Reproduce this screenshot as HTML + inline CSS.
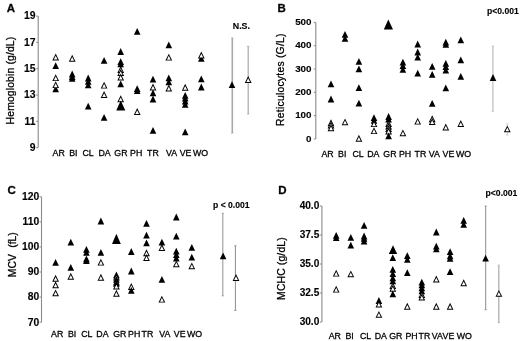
<!DOCTYPE html>
<html><head><meta charset="utf-8"><style>
html,body{margin:0;padding:0;background:#fff;}
svg{display:block;will-change:transform;font-family:"Liberation Sans",sans-serif;fill:#000;}
text{fill:#000;}
text.r{stroke:#000;stroke-width:0.28px;}
text.b{stroke:#000;stroke-width:0.12px;}
</style></head><body>
<svg width="520" height="341" viewBox="0 0 520 341">
<rect width="520" height="341" fill="#fff"/>
<text x="6.8" y="11.6" font-size="11.5" font-weight="bold" text-anchor="start" stroke="#111" stroke-width="0.3">A</text>
<text class="r" transform="translate(13.5,124.4) rotate(-90)" font-size="10.4" textLength="87.6" lengthAdjust="spacing">Hemoglobin (g/dL)</text>
<line x1="38.2" y1="16.1" x2="38.2" y2="147.6" stroke="#8a8a8a" stroke-width="1.1"/>
<line x1="36.2" y1="16.1" x2="38.2" y2="16.1" stroke="#8a8a8a" stroke-width="1"/>
<text x="35.5" y="19.400000000000002" font-size="10.4" font-weight="bold" text-anchor="end" class="b">19</text>
<line x1="36.2" y1="42.4" x2="38.2" y2="42.4" stroke="#8a8a8a" stroke-width="1"/>
<text x="35.5" y="45.699999999999996" font-size="10.4" font-weight="bold" text-anchor="end" class="b">17</text>
<line x1="36.2" y1="68.7" x2="38.2" y2="68.7" stroke="#8a8a8a" stroke-width="1"/>
<text x="35.5" y="72.0" font-size="10.4" font-weight="bold" text-anchor="end" class="b">15</text>
<line x1="36.2" y1="95.0" x2="38.2" y2="95.0" stroke="#8a8a8a" stroke-width="1"/>
<text x="35.5" y="98.3" font-size="10.4" font-weight="bold" text-anchor="end" class="b">13</text>
<line x1="36.2" y1="121.3" x2="38.2" y2="121.3" stroke="#8a8a8a" stroke-width="1"/>
<text x="35.5" y="124.6" font-size="10.4" font-weight="bold" text-anchor="end" class="b">11</text>
<line x1="36.2" y1="147.6" x2="38.2" y2="147.6" stroke="#8a8a8a" stroke-width="1"/>
<text x="35.5" y="150.9" font-size="10.4" font-weight="bold" text-anchor="end" class="b">9</text>
<text x="58.65" y="156.0" font-size="8.8" font-weight="normal" text-anchor="middle" class="r">AR</text>
<text x="73.35" y="156.0" font-size="8.8" font-weight="normal" text-anchor="middle" class="r">BI</text>
<text x="88.1" y="156.0" font-size="8.8" font-weight="normal" text-anchor="middle" class="r">CL</text>
<text x="104.6" y="156.0" font-size="8.8" font-weight="normal" text-anchor="middle" class="r">DA</text>
<text x="120.95" y="156.0" font-size="8.8" font-weight="normal" text-anchor="middle" class="r">GR</text>
<text x="136.2" y="156.0" font-size="8.8" font-weight="normal" text-anchor="middle" class="r">PH</text>
<text x="152.9" y="156.0" font-size="8.8" font-weight="normal" text-anchor="middle" class="r">TR</text>
<text x="171.55" y="156.0" font-size="8.8" font-weight="normal" text-anchor="middle" class="r">VA</text>
<text x="185.55" y="156.0" font-size="8.8" font-weight="normal" text-anchor="middle" class="r">VE</text>
<text x="200.6" y="156.0" font-size="8.8" font-weight="normal" text-anchor="middle" class="r">WO</text>
<polygon points="55.70,62.20 52.40,69.00 59.00,69.00" fill="#000"/>
<polygon points="55.70,85.50 52.40,92.30 59.00,92.30" fill="#000"/>
<polygon points="55.70,53.50 52.30,60.40 59.10,60.40" fill="#000"/>
<polygon points="55.70,55.65 53.83,59.45 57.57,59.45" fill="#fff"/>
<polygon points="55.70,74.20 52.30,81.10 59.10,81.10" fill="#000"/>
<polygon points="55.70,76.35 53.83,80.15 57.57,80.15" fill="#fff"/>
<polygon points="55.70,81.20 52.30,88.10 59.10,88.10" fill="#000"/>
<polygon points="55.70,83.35 53.83,87.15 57.57,87.15" fill="#fff"/>
<polygon points="72.20,70.60 68.90,77.40 75.50,77.40" fill="#000"/>
<polygon points="72.20,73.20 68.90,80.00 75.50,80.00" fill="#000"/>
<polygon points="72.20,75.00 68.90,81.80 75.50,81.80" fill="#000"/>
<polygon points="72.20,54.80 68.80,61.70 75.60,61.70" fill="#000"/>
<polygon points="72.20,56.95 70.33,60.75 74.07,60.75" fill="#fff"/>
<polygon points="88.20,74.60 84.90,81.40 91.50,81.40" fill="#000"/>
<polygon points="88.20,78.00 84.90,84.80 91.50,84.80" fill="#000"/>
<polygon points="88.20,81.50 84.90,88.30 91.50,88.30" fill="#000"/>
<polygon points="88.20,102.80 84.90,109.60 91.50,109.60" fill="#000"/>
<polygon points="104.10,57.00 100.80,63.80 107.40,63.80" fill="#000"/>
<polygon points="104.10,81.70 100.70,88.60 107.50,88.60" fill="#000"/>
<polygon points="104.10,83.85 102.23,87.65 105.97,87.65" fill="#fff"/>
<polygon points="104.10,91.00 100.70,97.90 107.50,97.90" fill="#000"/>
<polygon points="104.10,93.15 102.23,96.95 105.97,96.95" fill="#fff"/>
<polygon points="104.10,114.00 100.80,120.80 107.40,120.80" fill="#000"/>
<polygon points="120.70,48.10 117.40,54.90 124.00,54.90" fill="#000"/>
<polygon points="120.70,58.30 117.40,65.10 124.00,65.10" fill="#000"/>
<polygon points="120.70,60.50 117.40,67.30 124.00,67.30" fill="#000"/>
<polygon points="120.70,66.00 117.30,72.90 124.10,72.90" fill="#000"/>
<polygon points="120.70,68.15 118.83,71.95 122.57,71.95" fill="#fff"/>
<polygon points="120.70,69.00 117.30,75.90 124.10,75.90" fill="#000"/>
<polygon points="120.70,71.15 118.83,74.95 122.57,74.95" fill="#fff"/>
<polygon points="120.70,73.50 117.30,80.40 124.10,80.40" fill="#000"/>
<polygon points="120.70,75.65 118.83,79.45 122.57,79.45" fill="#fff"/>
<polygon points="120.70,80.50 117.40,87.30 124.00,87.30" fill="#000"/>
<polygon points="120.70,95.30 117.30,102.20 124.10,102.20" fill="#000"/>
<polygon points="120.70,97.45 118.83,101.25 122.57,101.25" fill="#fff"/>
<polygon points="120.7,100.5 116.3,110.6 125.3,110.6" fill="#000"/>
<polygon points="137.20,27.90 133.90,34.70 140.50,34.70" fill="#000"/>
<polygon points="137.20,85.30 133.90,92.10 140.50,92.10" fill="#000"/>
<polygon points="137.20,87.30 133.90,94.10 140.50,94.10" fill="#000"/>
<polygon points="137.20,108.00 133.80,114.90 140.60,114.90" fill="#000"/>
<polygon points="137.20,110.15 135.33,113.95 139.07,113.95" fill="#fff"/>
<polygon points="153.00,75.80 149.70,82.60 156.30,82.60" fill="#000"/>
<polygon points="153.00,89.50 149.70,96.30 156.30,96.30" fill="#000"/>
<polygon points="153.00,95.60 149.70,102.40 156.30,102.40" fill="#000"/>
<polygon points="153.00,127.00 149.70,133.80 156.30,133.80" fill="#000"/>
<polygon points="153.00,83.60 149.60,90.50 156.40,90.50" fill="#000"/>
<polygon points="153.00,85.75 151.13,89.55 154.87,89.55" fill="#fff"/>
<polygon points="168.80,41.50 165.50,48.30 172.10,48.30" fill="#000"/>
<polygon points="168.80,74.50 165.50,81.30 172.10,81.30" fill="#000"/>
<polygon points="168.80,78.50 165.50,85.30 172.10,85.30" fill="#000"/>
<polygon points="168.80,53.70 165.40,60.60 172.20,60.60" fill="#000"/>
<polygon points="168.80,55.85 166.93,59.65 170.67,59.65" fill="#fff"/>
<polygon points="168.80,84.50 165.40,91.40 172.20,91.40" fill="#000"/>
<polygon points="168.80,86.65 166.93,90.45 170.67,90.45" fill="#fff"/>
<polygon points="185.20,91.90 181.90,98.70 188.50,98.70" fill="#000"/>
<polygon points="185.20,94.60 181.90,101.40 188.50,101.40" fill="#000"/>
<polygon points="185.20,97.60 181.90,104.40 188.50,104.40" fill="#000"/>
<polygon points="185.20,101.00 181.90,107.80 188.50,107.80" fill="#000"/>
<polygon points="185.20,128.40 181.90,135.20 188.50,135.20" fill="#000"/>
<polygon points="185.20,83.80 181.80,90.70 188.60,90.70" fill="#000"/>
<polygon points="185.20,85.95 183.33,89.75 187.07,89.75" fill="#fff"/>
<polygon points="201.30,55.00 198.00,61.80 204.60,61.80" fill="#000"/>
<polygon points="201.30,51.60 197.90,58.50 204.70,58.50" fill="#000"/>
<polygon points="201.30,53.75 199.43,57.55 203.17,57.55" fill="#fff"/>
<polygon points="201.30,75.50 198.00,82.30 204.60,82.30" fill="#000"/>
<polygon points="201.30,83.60 198.00,90.40 204.60,90.40" fill="#000"/>
<text x="232.8" y="28.5" font-size="8.8" font-weight="bold" text-anchor="start" class="b">N.S.</text>
<line x1="232.3" y1="38" x2="232.3" y2="133" stroke="#a8a8a8" stroke-width="1.6"/>
<line x1="231.10000000000002" y1="38" x2="233.5" y2="38" stroke="#a8a8a8" stroke-width="0.8"/>
<line x1="231.10000000000002" y1="133" x2="233.5" y2="133" stroke="#a8a8a8" stroke-width="0.8"/>
<line x1="248.2" y1="46.4" x2="248.2" y2="114" stroke="#a8a8a8" stroke-width="1.2"/>
<line x1="247.0" y1="46.4" x2="249.39999999999998" y2="46.4" stroke="#a8a8a8" stroke-width="0.8"/>
<line x1="247.0" y1="114" x2="249.39999999999998" y2="114" stroke="#a8a8a8" stroke-width="0.8"/>
<polygon points="232.00,81.20 228.70,88.00 235.30,88.00" fill="#000"/>
<polygon points="248.20,76.00 244.80,82.90 251.60,82.90" fill="#000"/>
<polygon points="248.20,78.15 246.33,81.95 250.07,81.95" fill="#fff"/>
<text x="277.6" y="11.5" font-size="11.5" font-weight="bold" text-anchor="start" stroke="#111" stroke-width="0.3">B</text>
<text class="r" transform="translate(283.7,125.9) rotate(-90)" font-size="10.4" textLength="92.4" lengthAdjust="spacing">Reticulocytes (G/L)</text>
<line x1="315.8" y1="22.4" x2="315.8" y2="138.9" stroke="#8a8a8a" stroke-width="1.1"/>
<line x1="313.8" y1="22.4" x2="315.8" y2="22.4" stroke="#8a8a8a" stroke-width="1"/>
<text x="311.5" y="25.0" font-size="9.8" font-weight="bold" text-anchor="end" class="b">500</text>
<line x1="313.8" y1="45.7" x2="315.8" y2="45.7" stroke="#8a8a8a" stroke-width="1"/>
<text x="311.5" y="48.300000000000004" font-size="9.8" font-weight="bold" text-anchor="end" class="b">400</text>
<line x1="313.8" y1="69.0" x2="315.8" y2="69.0" stroke="#8a8a8a" stroke-width="1"/>
<text x="311.5" y="71.6" font-size="9.8" font-weight="bold" text-anchor="end" class="b">300</text>
<line x1="313.8" y1="92.3" x2="315.8" y2="92.3" stroke="#8a8a8a" stroke-width="1"/>
<text x="311.5" y="94.89999999999999" font-size="9.8" font-weight="bold" text-anchor="end" class="b">200</text>
<line x1="313.8" y1="115.6" x2="315.8" y2="115.6" stroke="#8a8a8a" stroke-width="1"/>
<text x="311.5" y="118.19999999999999" font-size="9.8" font-weight="bold" text-anchor="end" class="b">100</text>
<line x1="313.8" y1="138.9" x2="315.8" y2="138.9" stroke="#8a8a8a" stroke-width="1"/>
<text x="311.5" y="141.5" font-size="9.8" font-weight="bold" text-anchor="end" class="b">0</text>
<text x="327.6" y="156.5" font-size="8.8" font-weight="normal" text-anchor="middle" class="r">AR</text>
<text x="342.25" y="156.5" font-size="8.8" font-weight="normal" text-anchor="middle" class="r">BI</text>
<text x="358.0" y="156.5" font-size="8.8" font-weight="normal" text-anchor="middle" class="r">CL</text>
<text x="373.35" y="156.5" font-size="8.8" font-weight="normal" text-anchor="middle" class="r">DA</text>
<text x="389.95" y="156.5" font-size="8.8" font-weight="normal" text-anchor="middle" class="r">GR</text>
<text x="405.0" y="156.5" font-size="8.8" font-weight="normal" text-anchor="middle" class="r">PH</text>
<text x="420.4" y="156.5" font-size="8.8" font-weight="normal" text-anchor="middle" class="r">TR</text>
<text x="434.25" y="156.5" font-size="8.8" font-weight="normal" text-anchor="middle" class="r">VA</text>
<text x="448.45" y="156.5" font-size="8.8" font-weight="normal" text-anchor="middle" class="r">VE</text>
<text x="463.5" y="156.5" font-size="8.8" font-weight="normal" text-anchor="middle" class="r">WO</text>
<polygon points="331.00,80.50 327.70,87.30 334.30,87.30" fill="#000"/>
<polygon points="331.00,95.60 327.70,102.40 334.30,102.40" fill="#000"/>
<polygon points="331.00,119.30 327.60,126.20 334.40,126.20" fill="#000"/>
<polygon points="331.00,121.45 329.13,125.25 332.87,125.25" fill="#fff"/>
<polygon points="331.00,121.60 327.60,128.50 334.40,128.50" fill="#000"/>
<polygon points="331.00,123.75 329.13,127.55 332.87,127.55" fill="#fff"/>
<polygon points="331.00,124.30 327.60,131.20 334.40,131.20" fill="#000"/>
<polygon points="331.00,126.45 329.13,130.25 332.87,130.25" fill="#fff"/>
<polygon points="345.00,31.00 341.70,37.80 348.30,37.80" fill="#000"/>
<polygon points="345.00,35.00 341.70,41.80 348.30,41.80" fill="#000"/>
<polygon points="345.00,118.40 341.60,125.30 348.40,125.30" fill="#000"/>
<polygon points="345.00,120.55 343.13,124.35 346.87,124.35" fill="#fff"/>
<polygon points="358.90,58.00 355.60,64.80 362.20,64.80" fill="#000"/>
<polygon points="358.90,65.40 355.60,72.20 362.20,72.20" fill="#000"/>
<polygon points="358.90,84.20 355.60,91.00 362.20,91.00" fill="#000"/>
<polygon points="358.90,99.80 355.60,106.60 362.20,106.60" fill="#000"/>
<polygon points="358.90,134.80 355.50,141.70 362.30,141.70" fill="#000"/>
<polygon points="358.90,136.95 357.03,140.75 360.77,140.75" fill="#fff"/>
<polygon points="374.00,114.20 370.70,121.00 377.30,121.00" fill="#000"/>
<polygon points="374.00,117.00 370.70,123.80 377.30,123.80" fill="#000"/>
<polygon points="374.00,120.20 370.60,127.10 377.40,127.10" fill="#000"/>
<polygon points="374.00,122.35 372.13,126.15 375.87,126.15" fill="#fff"/>
<polygon points="374.00,127.20 370.60,134.10 377.40,134.10" fill="#000"/>
<polygon points="374.00,129.35 372.13,133.15 375.87,133.15" fill="#fff"/>
<polygon points="388.60,113.10 385.30,119.90 391.90,119.90" fill="#000"/>
<polygon points="388.60,115.80 385.30,122.60 391.90,122.60" fill="#000"/>
<polygon points="388.60,120.00 385.20,126.90 392.00,126.90" fill="#000"/>
<polygon points="388.60,122.15 386.73,125.95 390.47,125.95" fill="#fff"/>
<polygon points="388.60,122.50 385.20,129.40 392.00,129.40" fill="#000"/>
<polygon points="388.60,124.65 386.73,128.45 390.47,128.45" fill="#fff"/>
<polygon points="388.60,125.00 385.20,131.90 392.00,131.90" fill="#000"/>
<polygon points="388.60,127.15 386.73,130.95 390.47,130.95" fill="#fff"/>
<polygon points="388.60,127.50 385.20,134.40 392.00,134.40" fill="#000"/>
<polygon points="388.60,129.65 386.73,133.45 390.47,133.45" fill="#fff"/>
<polygon points="388.60,132.50 385.30,139.30 391.90,139.30" fill="#000"/>
<polygon points="388.3,19.5 383.8,29.5 393,29.5" fill="#000"/>
<polygon points="402.90,58.70 399.60,65.50 406.20,65.50" fill="#000"/>
<polygon points="402.90,62.30 399.60,69.10 406.20,69.10" fill="#000"/>
<polygon points="402.90,66.00 399.60,72.80 406.20,72.80" fill="#000"/>
<polygon points="402.90,129.40 399.50,136.30 406.30,136.30" fill="#000"/>
<polygon points="402.90,131.55 401.03,135.35 404.77,135.35" fill="#fff"/>
<polygon points="417.70,40.60 414.40,47.40 421.00,47.40" fill="#000"/>
<polygon points="417.70,48.60 414.40,55.40 421.00,55.40" fill="#000"/>
<polygon points="417.70,53.80 414.40,60.60 421.00,60.60" fill="#000"/>
<polygon points="417.70,69.70 414.40,76.50 421.00,76.50" fill="#000"/>
<polygon points="417.70,117.70 414.30,124.60 421.10,124.60" fill="#000"/>
<polygon points="417.70,119.85 415.83,123.65 419.57,123.65" fill="#fff"/>
<polygon points="432.20,62.90 428.90,69.70 435.50,69.70" fill="#000"/>
<polygon points="432.20,70.90 428.90,77.70 435.50,77.70" fill="#000"/>
<polygon points="432.20,99.90 428.90,106.70 435.50,106.70" fill="#000"/>
<polygon points="432.20,115.30 428.80,122.20 435.60,122.20" fill="#000"/>
<polygon points="432.20,117.45 430.33,121.25 434.07,121.25" fill="#fff"/>
<polygon points="432.20,118.00 428.80,124.90 435.60,124.90" fill="#000"/>
<polygon points="432.20,120.15 430.33,123.95 434.07,123.95" fill="#fff"/>
<polygon points="445.80,38.80 442.50,45.60 449.10,45.60" fill="#000"/>
<polygon points="445.80,41.00 442.50,47.80 449.10,47.80" fill="#000"/>
<polygon points="445.80,59.90 442.50,66.70 449.10,66.70" fill="#000"/>
<polygon points="445.80,63.30 442.50,70.10 449.10,70.10" fill="#000"/>
<polygon points="445.80,66.70 442.50,73.50 449.10,73.50" fill="#000"/>
<polygon points="445.80,84.50 442.50,91.30 449.10,91.30" fill="#000"/>
<polygon points="445.80,123.50 442.40,130.40 449.20,130.40" fill="#000"/>
<polygon points="445.80,125.65 443.93,129.45 447.67,129.45" fill="#fff"/>
<polygon points="460.80,36.40 457.50,43.20 464.10,43.20" fill="#000"/>
<polygon points="460.80,56.40 457.50,63.20 464.10,63.20" fill="#000"/>
<polygon points="460.80,73.00 457.50,79.80 464.10,79.80" fill="#000"/>
<polygon points="460.80,120.00 457.40,126.90 464.20,126.90" fill="#000"/>
<polygon points="460.80,122.15 458.93,125.95 462.67,125.95" fill="#fff"/>
<text x="487.0" y="13.8" font-size="8.6" font-weight="bold" text-anchor="start" class="b">p&lt;0.001</text>
<line x1="492.9" y1="46" x2="492.9" y2="111.3" stroke="#bdbdbd" stroke-width="1.2"/>
<line x1="491.7" y1="46" x2="494.09999999999997" y2="46" stroke="#bdbdbd" stroke-width="0.8"/>
<line x1="491.7" y1="111.3" x2="494.09999999999997" y2="111.3" stroke="#bdbdbd" stroke-width="0.8"/>
<polygon points="493.00,74.10 489.70,80.90 496.30,80.90" fill="#000"/>
<line x1="507.3" y1="124" x2="507.3" y2="135" stroke="#c4c4c4" stroke-width="0.7"/>
<line x1="506.1" y1="124" x2="508.5" y2="124" stroke="#c4c4c4" stroke-width="0.8"/>
<line x1="506.1" y1="135" x2="508.5" y2="135" stroke="#c4c4c4" stroke-width="0.8"/>
<polygon points="507.30,125.40 503.90,132.30 510.70,132.30" fill="#000"/>
<polygon points="507.30,127.55 505.43,131.35 509.17,131.35" fill="#fff"/>
<text x="7.4" y="193.7" font-size="11.5" font-weight="bold" text-anchor="start" stroke="#111" stroke-width="0.3">C</text>
<text class="r" transform="translate(15.8,277.3) rotate(-90)" font-size="10.4" textLength="23.2" lengthAdjust="spacing">MCV</text>
<text class="r" transform="translate(15.8,247.8) rotate(-90)" font-size="10.4" textLength="15.6" lengthAdjust="spacing">(fL)</text>
<line x1="41.5" y1="196.8" x2="41.5" y2="322.2" stroke="#8a8a8a" stroke-width="1.1"/>
<line x1="39.5" y1="196.8" x2="41.5" y2="196.8" stroke="#8a8a8a" stroke-width="1"/>
<text x="39.2" y="200.10000000000002" font-size="10.3" font-weight="bold" text-anchor="end" class="b">120</text>
<line x1="39.5" y1="221.9" x2="41.5" y2="221.9" stroke="#8a8a8a" stroke-width="1"/>
<text x="39.2" y="225.20000000000002" font-size="10.3" font-weight="bold" text-anchor="end" class="b">110</text>
<line x1="39.5" y1="246.9" x2="41.5" y2="246.9" stroke="#8a8a8a" stroke-width="1"/>
<text x="39.2" y="250.20000000000002" font-size="10.3" font-weight="bold" text-anchor="end" class="b">100</text>
<line x1="39.5" y1="272.0" x2="41.5" y2="272.0" stroke="#8a8a8a" stroke-width="1"/>
<text x="39.2" y="275.3" font-size="10.3" font-weight="bold" text-anchor="end" class="b">90</text>
<line x1="39.5" y1="297.1" x2="41.5" y2="297.1" stroke="#8a8a8a" stroke-width="1"/>
<text x="39.2" y="300.40000000000003" font-size="10.3" font-weight="bold" text-anchor="end" class="b">80</text>
<line x1="39.5" y1="322.2" x2="41.5" y2="322.2" stroke="#8a8a8a" stroke-width="1"/>
<text x="39.2" y="325.5" font-size="10.3" font-weight="bold" text-anchor="end" class="b">70</text>
<text x="57.2" y="337" font-size="8.8" font-weight="normal" text-anchor="middle" class="r">AR</text>
<text x="72.1" y="337" font-size="8.8" font-weight="normal" text-anchor="middle" class="r">BI</text>
<text x="86.75" y="337" font-size="8.8" font-weight="normal" text-anchor="middle" class="r">CL</text>
<text x="102.45" y="337" font-size="8.8" font-weight="normal" text-anchor="middle" class="r">DA</text>
<text x="119.75" y="337" font-size="8.8" font-weight="normal" text-anchor="middle" class="r">GR</text>
<text x="134.15" y="337" font-size="8.8" font-weight="normal" text-anchor="middle" class="r">PH</text>
<text x="147.4" y="337" font-size="8.8" font-weight="normal" text-anchor="middle" class="r">TR</text>
<text x="164.8" y="337" font-size="8.8" font-weight="normal" text-anchor="middle" class="r">VA</text>
<text x="179.7" y="337" font-size="8.8" font-weight="normal" text-anchor="middle" class="r">VE</text>
<text x="194.6" y="337" font-size="8.8" font-weight="normal" text-anchor="middle" class="r">WO</text>
<polygon points="55.60,258.90 52.30,265.70 58.90,265.70" fill="#000"/>
<polygon points="55.60,274.80 52.20,281.70 59.00,281.70" fill="#000"/>
<polygon points="55.60,276.95 53.73,280.75 57.47,280.75" fill="#fff"/>
<polygon points="55.60,281.30 52.20,288.20 59.00,288.20" fill="#000"/>
<polygon points="55.60,283.45 53.73,287.25 57.47,287.25" fill="#fff"/>
<polygon points="55.60,289.40 52.20,296.30 59.00,296.30" fill="#000"/>
<polygon points="55.60,291.55 53.73,295.35 57.47,295.35" fill="#fff"/>
<polygon points="70.80,238.70 67.50,245.50 74.10,245.50" fill="#000"/>
<polygon points="70.80,264.00 67.50,270.80 74.10,270.80" fill="#000"/>
<polygon points="70.80,272.80 67.40,279.70 74.20,279.70" fill="#000"/>
<polygon points="70.80,274.95 68.93,278.75 72.67,278.75" fill="#fff"/>
<polygon points="86.40,246.00 83.10,252.80 89.70,252.80" fill="#000"/>
<polygon points="86.40,249.00 83.10,255.80 89.70,255.80" fill="#000"/>
<polygon points="86.40,255.50 83.10,262.30 89.70,262.30" fill="#000"/>
<polygon points="86.40,257.30 83.10,264.10 89.70,264.10" fill="#000"/>
<polygon points="100.90,217.60 97.60,224.40 104.20,224.40" fill="#000"/>
<polygon points="100.90,249.00 97.60,255.80 104.20,255.80" fill="#000"/>
<polygon points="100.90,258.70 97.50,265.60 104.30,265.60" fill="#000"/>
<polygon points="100.90,260.85 99.03,264.65 102.77,264.65" fill="#fff"/>
<polygon points="100.90,273.80 97.50,280.70 104.30,280.70" fill="#000"/>
<polygon points="100.90,275.95 99.03,279.75 102.77,279.75" fill="#fff"/>
<polygon points="116.4,233.8 112,243.9 120.8,243.9" fill="#000"/>
<polygon points="116.40,271.50 113.10,278.30 119.70,278.30" fill="#000"/>
<polygon points="116.40,273.50 113.00,280.40 119.80,280.40" fill="#000"/>
<polygon points="116.40,275.65 114.53,279.45 118.27,279.45" fill="#fff"/>
<polygon points="116.40,276.00 113.10,282.80 119.70,282.80" fill="#000"/>
<polygon points="116.40,278.50 113.00,285.40 119.80,285.40" fill="#000"/>
<polygon points="116.40,280.65 114.53,284.45 118.27,284.45" fill="#fff"/>
<polygon points="116.40,280.00 113.10,286.80 119.70,286.80" fill="#000"/>
<polygon points="116.40,282.50 113.00,289.40 119.80,289.40" fill="#000"/>
<polygon points="116.40,284.65 114.53,288.45 118.27,288.45" fill="#fff"/>
<polygon points="116.40,289.80 113.00,296.70 119.80,296.70" fill="#000"/>
<polygon points="116.40,291.95 114.53,295.75 118.27,295.75" fill="#fff"/>
<polygon points="131.30,248.10 128.00,254.90 134.60,254.90" fill="#000"/>
<polygon points="131.30,267.60 128.00,274.40 134.60,274.40" fill="#000"/>
<polygon points="131.30,283.00 127.90,289.90 134.70,289.90" fill="#000"/>
<polygon points="131.30,285.15 129.43,288.95 133.17,288.95" fill="#fff"/>
<polygon points="131.30,287.00 128.00,293.80 134.60,293.80" fill="#000"/>
<polygon points="146.50,219.90 143.20,226.70 149.80,226.70" fill="#000"/>
<polygon points="146.50,231.70 143.20,238.50 149.80,238.50" fill="#000"/>
<polygon points="146.50,239.40 143.20,246.20 149.80,246.20" fill="#000"/>
<polygon points="146.50,249.30 143.10,256.20 149.90,256.20" fill="#000"/>
<polygon points="146.50,251.45 144.63,255.25 148.37,255.25" fill="#fff"/>
<polygon points="146.50,254.00 143.10,260.90 149.90,260.90" fill="#000"/>
<polygon points="146.50,256.15 144.63,259.95 148.37,259.95" fill="#fff"/>
<polygon points="161.90,238.80 158.60,245.60 165.20,245.60" fill="#000"/>
<polygon points="161.90,244.00 158.50,250.90 165.30,250.90" fill="#000"/>
<polygon points="161.90,246.15 160.03,249.95 163.77,249.95" fill="#fff"/>
<polygon points="161.90,276.00 158.60,282.80 165.20,282.80" fill="#000"/>
<polygon points="161.90,295.70 158.50,302.60 165.30,302.60" fill="#000"/>
<polygon points="161.90,297.85 160.03,301.65 163.77,301.65" fill="#fff"/>
<polygon points="176.30,213.60 173.00,220.40 179.60,220.40" fill="#000"/>
<polygon points="176.30,232.70 173.00,239.50 179.60,239.50" fill="#000"/>
<polygon points="176.30,247.70 173.00,254.50 179.60,254.50" fill="#000"/>
<polygon points="176.30,251.20 173.00,258.00 179.60,258.00" fill="#000"/>
<polygon points="176.30,254.60 173.00,261.40 179.60,261.40" fill="#000"/>
<polygon points="176.30,260.40 172.90,267.30 179.70,267.30" fill="#000"/>
<polygon points="176.30,262.55 174.43,266.35 178.17,266.35" fill="#fff"/>
<polygon points="191.80,244.00 188.50,250.80 195.10,250.80" fill="#000"/>
<polygon points="191.80,253.80 188.50,260.60 195.10,260.60" fill="#000"/>
<polygon points="191.80,262.40 188.40,269.30 195.20,269.30" fill="#000"/>
<polygon points="191.80,264.55 189.93,268.35 193.67,268.35" fill="#fff"/>
<text x="213.0" y="208.2" font-size="8.6" font-weight="bold" text-anchor="start" class="b">p &lt; 0.001</text>
<line x1="222.8" y1="213.3" x2="222.8" y2="295.8" stroke="#9a9a9a" stroke-width="1.1"/>
<line x1="221.60000000000002" y1="213.3" x2="224.0" y2="213.3" stroke="#9a9a9a" stroke-width="0.8"/>
<line x1="221.60000000000002" y1="295.8" x2="224.0" y2="295.8" stroke="#9a9a9a" stroke-width="0.8"/>
<polygon points="223.10,252.40 219.80,259.20 226.40,259.20" fill="#000"/>
<line x1="235.4" y1="245.8" x2="235.4" y2="310.4" stroke="#8c8c8c" stroke-width="1.0"/>
<line x1="234.20000000000002" y1="245.8" x2="236.6" y2="245.8" stroke="#8c8c8c" stroke-width="0.8"/>
<line x1="234.20000000000002" y1="310.4" x2="236.6" y2="310.4" stroke="#8c8c8c" stroke-width="0.8"/>
<polygon points="236.00,274.00 232.60,280.90 239.40,280.90" fill="#000"/>
<polygon points="236.00,276.15 234.13,279.95 237.87,279.95" fill="#fff"/>
<text x="278.3" y="194.3" font-size="11.5" font-weight="bold" text-anchor="start" stroke="#111" stroke-width="0.3">D</text>
<text class="r" transform="translate(284.7,299.9) rotate(-90)" font-size="10.4" textLength="62.6" lengthAdjust="spacing">MCHC (g/dL)</text>
<line x1="321.9" y1="206" x2="321.9" y2="322" stroke="#8a8a8a" stroke-width="1.1"/>
<line x1="319.9" y1="206" x2="321.9" y2="206" stroke="#8a8a8a" stroke-width="1"/>
<text x="319.29999999999995" y="209.3" font-size="10.1" font-weight="bold" text-anchor="end" class="b">40.0</text>
<line x1="319.9" y1="235" x2="321.9" y2="235" stroke="#8a8a8a" stroke-width="1"/>
<text x="319.29999999999995" y="238.3" font-size="10.1" font-weight="bold" text-anchor="end" class="b">37.5</text>
<line x1="319.9" y1="264" x2="321.9" y2="264" stroke="#8a8a8a" stroke-width="1"/>
<text x="319.29999999999995" y="267.3" font-size="10.1" font-weight="bold" text-anchor="end" class="b">35.0</text>
<line x1="319.9" y1="293" x2="321.9" y2="293" stroke="#8a8a8a" stroke-width="1"/>
<text x="319.29999999999995" y="296.3" font-size="10.1" font-weight="bold" text-anchor="end" class="b">32.5</text>
<line x1="319.9" y1="322" x2="321.9" y2="322" stroke="#8a8a8a" stroke-width="1"/>
<text x="319.29999999999995" y="325.3" font-size="10.1" font-weight="bold" text-anchor="end" class="b">30.0</text>
<text x="334.75" y="338.7" font-size="8.8" font-weight="normal" text-anchor="middle" class="r">AR</text>
<text x="349.65" y="338.7" font-size="8.8" font-weight="normal" text-anchor="middle" class="r">BI</text>
<text x="365.6" y="338.7" font-size="8.8" font-weight="normal" text-anchor="middle" class="r">CL</text>
<text x="380.75" y="338.7" font-size="8.8" font-weight="normal" text-anchor="middle" class="r">DA</text>
<text x="395.75" y="338.7" font-size="8.8" font-weight="normal" text-anchor="middle" class="r">GR</text>
<text x="411.6" y="338.7" font-size="8.8" font-weight="normal" text-anchor="middle" class="r">PH</text>
<text x="424.45" y="338.7" font-size="8.8" font-weight="normal" text-anchor="middle" class="r">TR</text>
<text x="437.3" y="338.7" font-size="8.8" font-weight="normal" text-anchor="middle" class="r">VA</text>
<text x="448.45" y="338.7" font-size="8.8" font-weight="normal" text-anchor="middle" class="r">VE</text>
<text x="464.25" y="338.7" font-size="8.8" font-weight="normal" text-anchor="middle" class="r">WO</text>
<polygon points="336.20,232.00 332.90,238.80 339.50,238.80" fill="#000"/>
<polygon points="336.20,234.30 332.90,241.10 339.50,241.10" fill="#000"/>
<polygon points="336.20,269.70 332.80,276.60 339.60,276.60" fill="#000"/>
<polygon points="336.20,271.85 334.33,275.65 338.07,275.65" fill="#fff"/>
<polygon points="336.20,285.70 332.80,292.60 339.60,292.60" fill="#000"/>
<polygon points="336.20,287.85 334.33,291.65 338.07,291.65" fill="#fff"/>
<polygon points="350.80,234.00 347.50,240.80 354.10,240.80" fill="#000"/>
<polygon points="350.80,241.80 347.50,248.60 354.10,248.60" fill="#000"/>
<polygon points="350.80,270.40 347.40,277.30 354.20,277.30" fill="#000"/>
<polygon points="350.80,272.55 348.93,276.35 352.67,276.35" fill="#fff"/>
<polygon points="364.10,222.00 360.80,228.80 367.40,228.80" fill="#000"/>
<polygon points="364.10,232.60 360.80,239.40 367.40,239.40" fill="#000"/>
<polygon points="364.10,235.00 360.80,241.80 367.40,241.80" fill="#000"/>
<polygon points="364.10,237.80 360.80,244.60 367.40,244.60" fill="#000"/>
<polygon points="378.90,297.10 375.60,303.90 382.20,303.90" fill="#000"/>
<polygon points="378.90,300.50 375.50,307.40 382.30,307.40" fill="#000"/>
<polygon points="378.90,302.65 377.03,306.45 380.77,306.45" fill="#fff"/>
<polygon points="378.90,310.90 375.50,317.80 382.30,317.80" fill="#000"/>
<polygon points="378.90,313.05 377.03,316.85 380.77,316.85" fill="#fff"/>
<polygon points="393,245.3 388.8,254.1 397.2,254.1" fill="#000"/>
<polygon points="392.80,254.30 389.50,261.10 396.10,261.10" fill="#000"/>
<polygon points="392.80,266.00 389.50,272.80 396.10,272.80" fill="#000"/>
<polygon points="392.80,270.30 389.50,277.10 396.10,277.10" fill="#000"/>
<polygon points="392.80,274.50 389.50,281.30 396.10,281.30" fill="#000"/>
<polygon points="392.80,277.50 389.50,284.30 396.10,284.30" fill="#000"/>
<polygon points="392.80,282.20 389.40,289.10 396.20,289.10" fill="#000"/>
<polygon points="392.80,284.35 390.93,288.15 394.67,288.15" fill="#fff"/>
<polygon points="392.80,284.80 389.40,291.70 396.20,291.70" fill="#000"/>
<polygon points="392.80,286.95 390.93,290.75 394.67,290.75" fill="#fff"/>
<polygon points="392.80,290.50 389.50,297.30 396.10,297.30" fill="#000"/>
<polygon points="407.30,252.20 404.00,259.00 410.60,259.00" fill="#000"/>
<polygon points="407.30,256.00 404.00,262.80 410.60,262.80" fill="#000"/>
<polygon points="407.30,269.30 404.00,276.10 410.60,276.10" fill="#000"/>
<polygon points="407.30,302.80 403.90,309.70 410.70,309.70" fill="#000"/>
<polygon points="407.30,304.95 405.43,308.75 409.17,308.75" fill="#fff"/>
<polygon points="421.80,278.70 418.50,285.50 425.10,285.50" fill="#000"/>
<polygon points="421.80,281.50 418.50,288.30 425.10,288.30" fill="#000"/>
<polygon points="421.80,284.50 418.50,291.30 425.10,291.30" fill="#000"/>
<polygon points="421.80,287.50 418.50,294.30 425.10,294.30" fill="#000"/>
<polygon points="421.80,291.00 418.40,297.90 425.20,297.90" fill="#000"/>
<polygon points="421.80,293.15 419.93,296.95 423.67,296.95" fill="#fff"/>
<polygon points="421.80,293.50 418.40,300.40 425.20,300.40" fill="#000"/>
<polygon points="421.80,295.65 419.93,299.45 423.67,299.45" fill="#fff"/>
<polygon points="436.30,228.60 433.00,235.40 439.60,235.40" fill="#000"/>
<polygon points="436.30,242.70 433.00,249.50 439.60,249.50" fill="#000"/>
<polygon points="436.30,245.50 433.00,252.30 439.60,252.30" fill="#000"/>
<polygon points="436.30,275.50 432.90,282.40 439.70,282.40" fill="#000"/>
<polygon points="436.30,277.65 434.43,281.45 438.17,281.45" fill="#fff"/>
<polygon points="436.30,302.80 432.90,309.70 439.70,309.70" fill="#000"/>
<polygon points="436.30,304.95 434.43,308.75 438.17,308.75" fill="#fff"/>
<polygon points="450.10,248.30 446.80,255.10 453.40,255.10" fill="#000"/>
<polygon points="450.10,252.50 446.80,259.30 453.40,259.30" fill="#000"/>
<polygon points="450.10,255.00 446.80,261.80 453.40,261.80" fill="#000"/>
<polygon points="450.10,268.30 446.80,275.10 453.40,275.10" fill="#000"/>
<polygon points="450.10,302.80 446.70,309.70 453.50,309.70" fill="#000"/>
<polygon points="450.10,304.95 448.23,308.75 451.97,308.75" fill="#fff"/>
<polygon points="463.70,216.90 460.40,223.70 467.00,223.70" fill="#000"/>
<polygon points="463.70,221.00 460.40,227.80 467.00,227.80" fill="#000"/>
<polygon points="463.70,279.30 460.30,286.20 467.10,286.20" fill="#000"/>
<polygon points="463.70,281.45 461.83,285.25 465.57,285.25" fill="#fff"/>
<text x="485.6" y="196.3" font-size="8.6" font-weight="bold" text-anchor="start" class="b">p&lt;0.001</text>
<line x1="485.7" y1="206.1" x2="485.7" y2="309.7" stroke="#8c8c8c" stroke-width="1.0"/>
<line x1="484.5" y1="206.1" x2="486.9" y2="206.1" stroke="#8c8c8c" stroke-width="0.8"/>
<line x1="484.5" y1="309.7" x2="486.9" y2="309.7" stroke="#8c8c8c" stroke-width="0.8"/>
<polygon points="485.60,254.80 482.30,261.60 488.90,261.60" fill="#000"/>
<line x1="498.8" y1="265.2" x2="498.8" y2="322.7" stroke="#b0b0b0" stroke-width="1.3"/>
<line x1="497.6" y1="265.2" x2="500.0" y2="265.2" stroke="#b0b0b0" stroke-width="0.8"/>
<line x1="497.6" y1="322.7" x2="500.0" y2="322.7" stroke="#b0b0b0" stroke-width="0.8"/>
<polygon points="498.90,289.90 495.50,296.80 502.30,296.80" fill="#000"/>
<polygon points="498.90,292.05 497.03,295.85 500.77,295.85" fill="#fff"/>
</svg>
</body></html>
